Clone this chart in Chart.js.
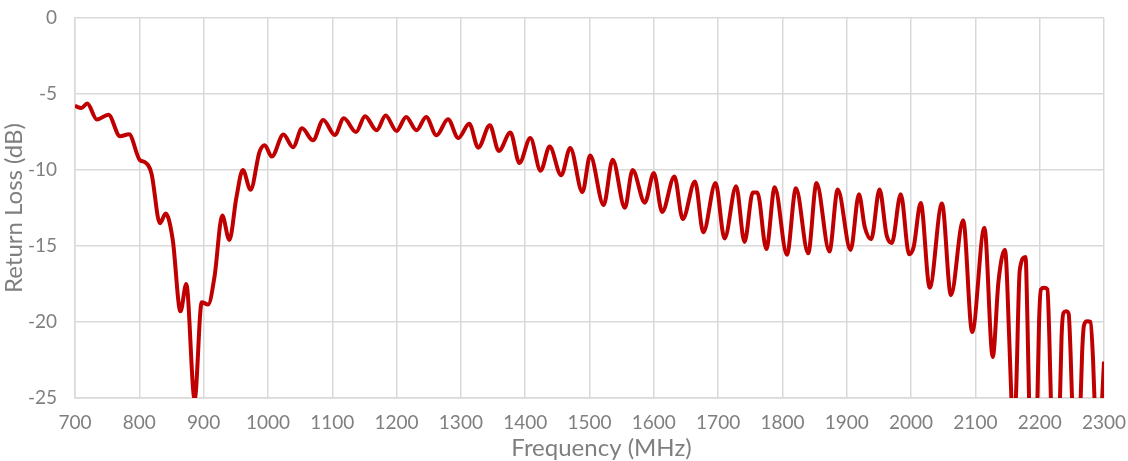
<!DOCTYPE html>
<html>
<head>
<meta charset="utf-8">
<script src="https://cdn.jsdelivr.net/npm/chart.js@4.4.1/dist/chart.umd.min.js"></script>
<style>
  html, body { margin: 0; padding: 0; background: #fff; }
  #wrap { width: 1128px; height: 461px; }
</style>
</head>
<body>
<div id="wrap"><canvas id="return-loss-chart" width="1128" height="461"></canvas></div>
<script>
// values (peaks / troughs of the sweep)
const freqMHz = [
  700, 710, 719, 734, 752, 770, 784, 801, 808, 819,
  832, 841, 852, 864, 873, 886, 897, 907, 917, 929,
  940, 951, 961, 973, 987, 995, 1006, 1024, 1039, 1053,
  1070, 1086, 1104, 1118, 1137, 1151, 1169, 1183, 1200, 1215,
  1231, 1246, 1262, 1280, 1296, 1313, 1327, 1345, 1359, 1377,
  1391, 1408, 1424, 1438, 1456, 1470, 1489, 1501, 1522, 1536,
  1555, 1567, 1586, 1600, 1613, 1632, 1645, 1664, 1677, 1696,
  1710, 1728, 1741, 1754, 1761, 1775, 1788, 1807, 1821, 1840,
  1853, 1873, 1886, 1906, 1919, 1928, 1938, 1951, 1962, 1970,
  1984, 1997, 2004, 2015, 2029, 2048, 2062, 2081, 2095, 2114,
  2127, 2136, 2146, 2153, 2156, 2159.5, 2163, 2169, 2178, 2181,
  2184, 2190, 2196, 2199, 2202, 2207, 2212, 2215, 2218, 2224,
  2231, 2234, 2237, 2241, 2245, 2248, 2251, 2257, 2263, 2266,
  2269, 2274, 2279, 2283, 2286, 2291, 2296, 2300
];
const returnLossDb = [
  -5.79, -5.92, -5.63, -6.68, -6.36, -7.78, -7.65, -9.36, -9.47, -10.24,
  -13.5, -12.87, -14.6, -19.3, -17.5, -25.1, -18.7, -18.85, -17.0, -13.0,
  -14.6, -11.8, -10.0, -11.3, -8.8, -8.37, -9.12, -7.67, -8.5, -7.26,
  -8.05, -6.71, -7.7, -6.6, -7.5, -6.46, -7.39, -6.42, -7.43, -6.51,
  -7.39, -6.51, -7.72, -6.66, -7.89, -6.95, -8.53, -7.06, -8.75, -7.53,
  -9.54, -7.9, -10.05, -8.46, -10.35, -8.55, -11.45, -9.05, -12.3, -9.32,
  -12.48, -10.0, -12.15, -10.2, -12.76, -10.43, -13.23, -10.75, -14.1, -10.86,
  -14.5, -11.07, -14.73, -11.48, -11.48, -15.2, -11.14, -15.58, -11.2, -15.48,
  -10.86, -15.36, -11.29, -15.26, -11.6, -13.75, -14.55, -11.29, -14.3, -14.8,
  -11.6, -15.55, -15.07, -12.17, -17.74, -12.2, -18.24, -13.31, -20.66, -13.8,
  -22.3, -17.3, -15.24, -21.5, -25, -27, -25, -16.6, -15.72, -20,
  -26, -31, -26, -20, -17.85, -17.75, -17.85, -21, -26, -31,
  -26, -21, -19.4, -19.3, -19.45, -22, -26, -31, -26, -22,
  -20.2, -19.95, -20.0, -22.5, -26, -30, -26, -22.6
];

const xMin = 700, xMax = 2300, xStep = 100;
const yMin = -25, yMax = 0, yStep = 5;
const xTitle = 'Frequency (MHz)';

const axisGray = '#7f7f7f';
const gridGray = '#d9d9d9';
const lineRed = '#c00000';

const points = freqMHz.map((f, i) => ({ x: f, y: returnLossDb[i] }));

// x title sits a little right of the plot centre in the original, so draw it here
const xTitlePlugin = {
  id: 'xTitle',
  afterDraw(chart) {
    const { ctx, chartArea } = chart;
    ctx.save();
    ctx.font = '24px Lato';
    ctx.fillStyle = axisGray;
    ctx.textAlign = 'center';
    ctx.textBaseline = 'middle';
    ctx.fillText(xTitle, (chartArea.left + chartArea.right) / 2 + 12, 448);
    ctx.restore();
  }
};

const ctx = document.getElementById('return-loss-chart').getContext('2d');
const chart = new Chart(ctx, {
  type: 'line',
  data: {
    datasets: [{
      label: 'Return Loss',
      data: points,
      borderColor: lineRed,
      borderWidth: 4,
      pointRadius: 0,
      cubicInterpolationMode: 'monotone',
      fill: false
    }]
  },
  plugins: [xTitlePlugin],
  options: {
    responsive: false,
    animation: false,
    layout: { padding: { top: 18, right: 24, left: 0, bottom: 0 } },
    plugins: {
      legend: { display: false },
      tooltip: { enabled: false }
    },
    scales: {
      x: {
        type: 'linear',
        min: xMin,
        max: xMax,
        // fixed axis band, no extra label overhang padding
        afterFit: (scale) => {
          scale.height = 63;
          scale.paddingLeft = 0;
          scale.paddingRight = 0;
        },
        ticks: {
          stepSize: xStep,
          color: axisGray,
          font: { family: 'Lato', size: 19 },
          padding: 13,
          maxRotation: 0,
          callback: (v) => String(v)
        },
        grid: { color: gridGray, lineWidth: 1.5, drawTicks: false },
        border: { color: gridGray, width: 1.5 }
      },
      y: {
        min: yMin,
        max: yMax,
        afterFit: (scale) => {
          scale.width = 75;
          scale.paddingTop = 0;
          scale.paddingBottom = 0;
        },
        ticks: {
          stepSize: yStep,
          color: axisGray,
          font: { family: 'Lato', size: 19 },
          padding: 18,
          callback: (v) => String(v)
        },
        grid: { color: gridGray, lineWidth: 1.5, drawTicks: false },
        border: { color: gridGray, width: 1.5 },
        title: {
          display: true,
          text: 'Return Loss (dB)',
          color: axisGray,
          font: { family: 'Lato', size: 24 },
          padding: { top: 0, bottom: 0 }
        }
      }
    }
  }
});
</script>
</body>
</html>
